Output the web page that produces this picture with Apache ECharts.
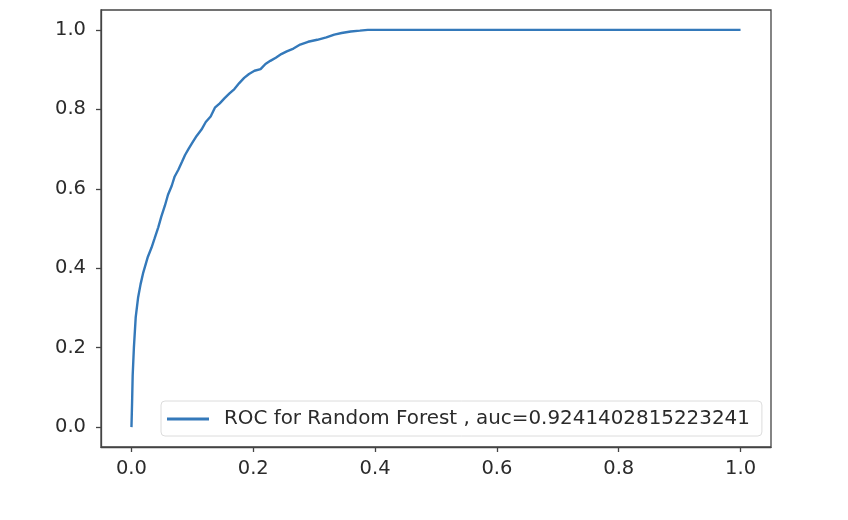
<!DOCTYPE html>
<html>
<head>
<meta charset="utf-8">
<script src="https://cdn.jsdelivr.net/npm/echarts@6/dist/echarts.min.js"></script>
<style>
  html, body { margin: 0; padding: 0; background: #fff; }
  #chart { width: 848px; height: 520px; }
</style>
</head>
<body>
<div id="chart"></div>
<script>
// ROC curve
const fpr = [0, 0.001, 0.002, 0.004, 0.007, 0.011, 0.015, 0.019, 0.027, 0.033,
  0.038, 0.044, 0.049, 0.055, 0.060, 0.066, 0.071, 0.077, 0.083, 0.088,
  0.094, 0.100, 0.107, 0.115, 0.122, 0.130, 0.137, 0.145, 0.153, 0.161,
  0.169, 0.177, 0.185, 0.193, 0.202, 0.212, 0.220, 0.228, 0.237, 0.246,
  0.255, 0.266, 0.277, 0.290, 0.305, 0.320, 0.333, 0.345, 0.360, 0.375,
  0.388, 1.0]
const tpr = [0, 0.06, 0.13, 0.20, 0.277, 0.327, 0.36, 0.387, 0.429, 0.452,
  0.475, 0.503, 0.53, 0.558, 0.585, 0.607, 0.631, 0.648, 0.668, 0.685,
  0.701, 0.716, 0.733, 0.749, 0.768, 0.782, 0.804, 0.815, 0.828, 0.840,
  0.851, 0.866, 0.879, 0.889, 0.897, 0.901, 0.914, 0.922, 0.930, 0.939,
  0.946, 0.953, 0.963, 0.970, 0.975, 0.981, 0.988, 0.992, 0.996, 0.998,
  1.0, 1.0]
const ticks = [0, 0.2, 0.4, 0.6, 0.8, 1.0]
const seriesName = 'ROC for Random Forest , auc=0.9241402815223241'

const font = 'DejaVu Sans'
const ink = '#2b2b2b'
const fmt = (v) => v.toFixed(1)

const chart = echarts.init(document.getElementById('chart'))

const axisCommon = {
  type: 'value'
  , min: -0.05
  , max: 1.05
  , splitLine: { show: false }
  , axisLine: { show: true, onZero: false, lineStyle: { color: '#444', width: 1.3 } }
  , axisTick: {
    show: true
    , customValues: ticks
    , length: 5
    , lineStyle: { color: '#444', width: 1.3 }
  }
  , axisLabel: {
    customValues: ticks
    , formatter: fmt
    , color: ink
    , fontFamily: font
    , fontSize: 19.5
  }
}

chart.setOption({
  animation: false
  , grid: {
    left: 101, top: 10, width: 670, height: 437
    , show: true, borderColor: '#444', borderWidth: 1.3
  }
  , xAxis: Object.assign({}, axisCommon, {
    axisLabel: Object.assign({}, axisCommon.axisLabel, { margin: 12 })
  })
  , yAxis: Object.assign({}, axisCommon, {
    axisLabel: Object.assign({}, axisCommon.axisLabel, { margin: 15 })
  })
  , legend: {
    left: 161, top: 401
    , padding: [8, 12, 7, 6]
    , borderColor: '#dcdcdc', borderWidth: 1, borderRadius: 4
    , backgroundColor: '#fff'
    , icon: 'rect'
    , itemWidth: 42, itemHeight: 3
    , textStyle: { color: ink, fontFamily: font, fontSize: 19.9, padding: [0, 0, 0, 10] }
    , data: [seriesName]
  }
  , series: [{
    name: seriesName
    , type: 'line'
    , showSymbol: false
    , lineStyle: { color: '#3479ba', width: 2.4 }
    , itemStyle: { color: '#3479ba' }
    , data: fpr.map((x, i) => [x, tpr[i]])
  }]
})
</script>
</body>
</html>
